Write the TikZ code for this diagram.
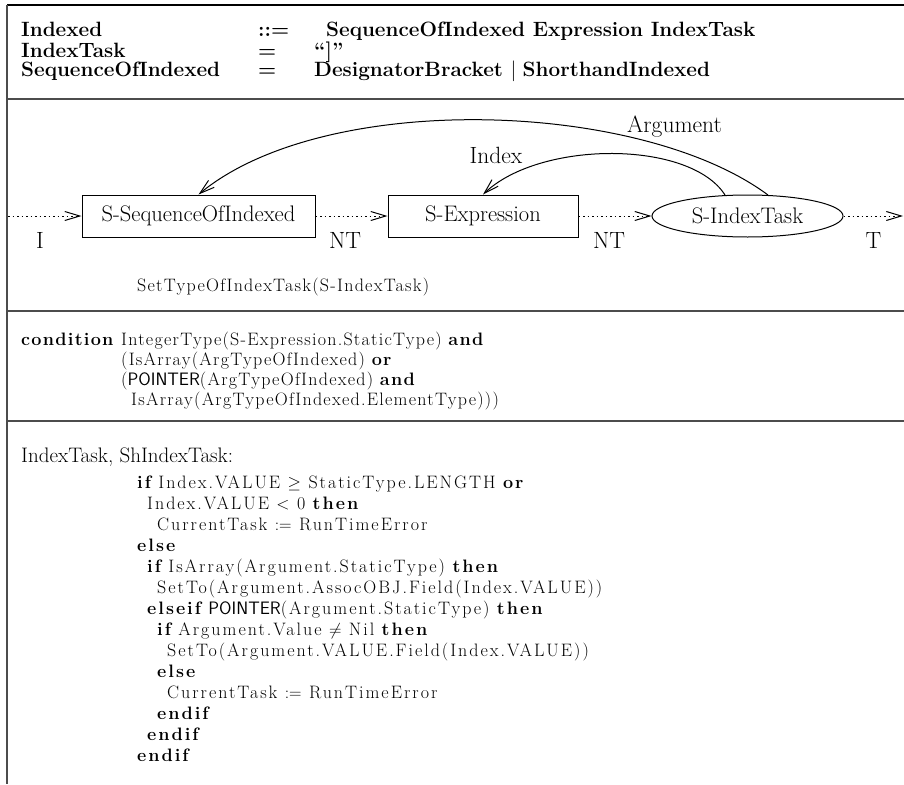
\documentclass[tikz,border=0pt]{standalone}
\usepackage{fontspec}
\usetikzlibrary{shapes.geometric,arrows.meta}
\newfontfamily\spacedrm[LetterSpace=7]{Latin Modern Roman}
\newfontfamily\widerm[LetterSpace=11]{Latin Modern Roman}
\newfontfamily\spacedsf{Latin Modern Sans}
\newcommand\hdrtext{\fontsize{20.7}{20.7}\selectfont\bfseries}
\newcommand\diagtext{\fontsize{22.5}{22.5}\selectfont}
\newcommand\labeltext{\fontsize{23.5}{23.5}\selectfont}
\newcommand\condtext{\fontsize{18}{18}\selectfont\spacedrm}
\newcommand\codetext{\fontsize{18}{18}\selectfont\widerm}
\newcommand\kw[1]{{\bfseries #1}}
\newcommand\ptr{{\spacedsf POINTER}}
\tikzset{
  frameline/.style={line width=1.6pt, draw=black!70},
  stepbox/.style={draw, line width=1pt, inner sep=0pt, minimum height=42pt, font=\diagtext},
  flow/.style={line width=1pt, dash pattern=on 1.5pt off 3pt, -{Straight Barb[length=15pt,width=9pt]}},
  link/.style={line width=1pt, -{Straight Barb[length=15pt,width=9pt]}},
  lbl/.style={anchor=base, inner sep=0pt, font=\labeltext},
  hdr/.style={anchor=base west, inner sep=0pt, font=\hdrtext},
  cond/.style={anchor=base west, inner sep=0pt, font=\condtext},
  code/.style={anchor=base west, inner sep=0pt, font=\codetext},
}
\begin{document}
\begin{tikzpicture}[x=1pt, y=-1pt]
  \useasboundingbox (0,0) rectangle (904,784);

  % frame and section rules
  \draw[line width=1.4pt] (7,5) -- (904,5);
  \draw[frameline] (7,5) -- (7,784);
  \draw[frameline] (7,99) -- (904,99);
  \draw[frameline] (7,311) -- (904,311);
  \draw[frameline] (7,421) -- (904,421);

  % grammar rules
  \node[hdr] (g1a) at (21,37) {Indexed};
  \node[hdr] (g1b) at (258,37) {::=};
  \node[hdr] (g1c) at (326,37) {SequenceOfIndexed Expression IndexTask};
  \node[hdr] (g2a) at (21,57) {IndexTask};
  \node[hdr] (g2b) at (258,57) {=};
  \node[hdr] (g2c) at (314,57) {“]”};
  \node[hdr] (g3a) at (21,77) {SequenceOfIndexed};
  \node[hdr] (g3b) at (258,77) {=};
  \node[hdr] (g3c) at (314,77) {DesignatorBracket \mdseries$|$ \bfseries ShorthandIndexed};

  % attribute flow diagram
  \coordinate (in) at (8,216);
  \coordinate (out) at (903,216);
  \node[stepbox, minimum width=233pt] (seq) at (198.5,216) {S-SequenceOfIndexed};
  \node[stepbox, minimum width=190pt] (expr) at (483,216) {S-Expression};
  \node[stepbox, ellipse, minimum width=191pt] (task) at (747.5,216) {S-IndexTask};

  \draw[flow] (in) -- (seq.west);
  \draw[flow] (seq.east) -- (expr.west);
  \draw[flow] (expr.east) -- (task.west);
  \draw[flow] (task.east) -- (out);

  \draw[link] (725,195) .. controls (690,140) and (540,140) .. (expr.north);
  \draw[link] (768,195) .. controls (640,100) and (325,90) .. (seq.north);

  \node[lbl] (lI) at (40,248) {I};
  \node[lbl] (lNT1) at (345,248) {NT};
  \node[lbl] (lNT2) at (609,248) {NT};
  \node[lbl] (lT) at (873.5,248) {T};
  \node[lbl] (lIndex) at (496,163) {Index};
  \node[lbl] (lArg) at (674.5,132) {Argument};

  \node[cond] (settype) at (137,291) {SetTypeOfIndexTask(S-IndexTask)};

  % context condition
  \node[cond] (cnd) at (21,345) {\kw{condition}};
  \node[cond] (k1) at (121,345) {IntegerType(S-Expression.StaticType) \kw{and}};
  \node[cond] (k2) at (121,365) {(IsArray(ArgTypeOfIndexed) \kw{or}};
  \node[cond] (k3) at (121,385) {(\ptr(ArgTypeOfIndexed) \kw{and}};
  \node[cond] (k4) at (131,405) {IsArray(ArgTypeOfIndexed.ElementType)))};

  % task semantics
  \node[anchor=base west, inner sep=0pt, font=\fontsize{21}{21}\selectfont] (tasks) at (21,462) {IndexTask, ShIndexTask:};
  \node[code] (c1) at (137,488) {\kw{if} Index.VALUE $\geq$ StaticType.LENGTH \kw{or}};
  \node[code] (c2) at (147,509) {Index.VALUE $<$ 0 \kw{then}};
  \node[code] (c3) at (157,530) {CurrentTask $:=$ RunTimeError};
  \node[code] (c4) at (137,551) {\kw{else}};
  \node[code] (c5) at (147,572) {\kw{if} IsArray(Argument.StaticType) \kw{then}};
  \node[code] (c6) at (157,593) {SetTo(Argument.AssocOBJ.Field(Index.VALUE))};
  \node[code] (c7) at (147,614) {\kw{elseif} \ptr(Argument.StaticType) \kw{then}};
  \node[code] (c8) at (157,635) {\kw{if} Argument.Value $\neq$ Nil \kw{then}};
  \node[code] (c9) at (167,656) {SetTo(Argument.VALUE.Field(Index.VALUE))};
  \node[code] (c10) at (157,677) {\kw{else}};
  \node[code] (c11) at (167,698) {CurrentTask $:=$ RunTimeError};
  \node[code] (c12) at (157,719) {\kw{endif}};
  \node[code] (c13) at (147,740) {\kw{endif}};
  \node[code] (c14) at (137,761) {\kw{endif}};
\end{tikzpicture}
\end{document}
